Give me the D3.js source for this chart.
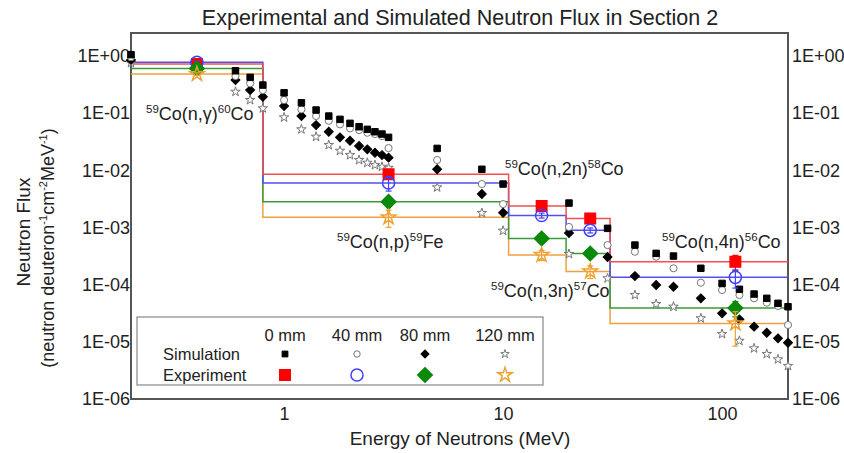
<!DOCTYPE html>
<html><head><meta charset="utf-8">
<script src="https://cdn.jsdelivr.net/npm/d3@7"></script>
<style>body{margin:0;background:#fff}svg{display:block;font-family:"Liberation Sans",Arial,sans-serif}</style>
</head><body><svg id="c" width="844" height="453"></svg>
<script>
// ---- data ----
const seriesNames = ["0 mm","40 mm","80 mm","120 mm"];
const simEnergy = [0.2,0.6,0.7,0.8,1.0,1.2,1.4,1.6,1.8,2.0,2.2,2.4,2.6,2.8,3.0,5,8,10,20,30,40,50,60,80,100,120,140,160,180,200];
const sim0 = [1.05,0.549,0.421,0.309,0.226,0.151,0.113,0.0887,0.0776,0.0661,0.0577,0.0519,0.0471,0.043,0.0376,0.0241,0.0104,0.00574,0.00267,9.64e-4,4.92e-4,3.52e-4,3.16e-4,1.93e-4,1.05e-4,8.28e-5,6.85e-5,5.76e-5,4.71e-5,4.11e-5];
const sim40 = [0.95,0.443,0.331,0.252,0.169,0.116,0.0887,0.0733,0.0634,0.054,0.0504,0.0453,0.043,0.0396,0.0244,0.0151,0.00574,0.00256,0.00102,4.92e-4,3.76e-4,3.08e-4,1.93e-4,1.08e-4,8.05e-5,6.58e-5,5.76e-5,4.83e-5,4.23e-5,1.97e-5];
const sim80 = [0.85,0.377,0.252,0.193,0.133,0.0887,0.0617,0.0471,0.0376,0.0328,0.0265,0.0232,0.0202,0.0184,0.0166,0.0104,0.00384,0.00181,7.98e-4,3.04e-4,1.41e-4,9.84e-5,9.19e-5,5.76e-5,3.15e-5,2.47e-5,1.84e-5,1.44e-5,1.15e-5,9.64e-6];
const sim120 = [0.75,0.236,0.169,0.121,0.084,0.0519,0.0385,0.0276,0.0219,0.0184,0.0151,0.0135,0.0123,0.0115,0.0110,0.00502,0.00179,8.76e-4,3.43e-4,1.29e-4,6.58e-5,4.58e-5,4.11e-5,2.58e-5,1.37e-5,1.04e-5,7.69e-6,6.12e-6,4.94e-6,3.78e-6];

const reactions = ["Co(n,γ)","Co(n,p)","Co(n,2n)","Co(n,3n)","Co(n,4n)"];
const binEdges = [0.2,0.8,10.6,19.4,30.8,200];
const expEnergy = [0.4,3.0,15,25,115];
const exp0 = [0.72,8.5e-3,2.37e-3,1.44e-3,2.5e-4];
const exp40 = [0.77,6.0e-3,1.62e-3,8.9e-4,1.34e-4];
const exp80 = [0.60,2.8e-3,6.4e-4,3.5e-4,3.9e-5];
const exp120 = [0.48,1.5e-3,3.3e-4,1.7e-4,2.1e-5];
const expErr0 = [0.05,0.12,0.1,0.1,0.3];
const expErr40 = [0.05,0.28,0.1,0.1,0.35];
const expErr80 = [0.05,0.15,0.1,0.1,0.3];
const expErr120 = [0.05,0.33,0.2,0.25,0.6];

const yTicks = [1,1e-1,1e-2,1e-3,1e-4,1e-5,1e-6];
const yTickLabels = ["1E+00","1E-01","1E-02","1E-03","1E-04","1E-05","1E-06"];
const xTicks = [1,10,100];
const xTickLabels = ["1","10","100"];

// ---- chart ----
const svg = d3.select("#c");
const L=131,R=788,T=33,B=399;
const x = d3.scaleLog().domain([0.2,200]).range([L,R]);
const y = d3.scaleLog().domain([1e-6,Math.pow(10,0.4)]).range([B,T]);
const textCol="#222";

svg.append("text").attr("x",460).attr("y",25).attr("text-anchor","middle")
  .attr("font-size",21.5).attr("fill",textCol).text("Experimental and Simulated Neutron Flux in Section 2");

// axes
const yl = d3.axisLeft(y).tickValues(yTicks).tickSize(0).tickPadding(1).tickFormat((d,i)=>yTickLabels[i]);
const yr = d3.axisRight(y).tickValues(yTicks).tickSize(0).tickPadding(4).tickFormat((d,i)=>yTickLabels[i]);
const xb = d3.axisBottom(x).tickValues(xTicks).tickSize(0).tickPadding(8).tickFormat((d,i)=>xTickLabels[i]);
function style(g){g.select(".domain").remove();g.selectAll("text").attr("font-size",18).attr("fill",textCol).attr("font-family","Liberation Sans, Arial, sans-serif");}
svg.append("g").attr("transform",`translate(${L},0)`).call(yl).call(style);
svg.append("g").attr("transform",`translate(${R},0)`).call(yr).call(style);
svg.append("g").attr("transform",`translate(0,${B})`).call(xb).call(style);

svg.append("rect").attr("x",L).attr("y",T).attr("width",R-L).attr("height",B-T)
  .attr("fill","none").attr("stroke","#555").attr("stroke-width",2);

svg.append("text").attr("x",460).attr("y",445).attr("text-anchor","middle")
  .attr("font-size",19).attr("fill",textCol).text("Energy of Neutrons (MeV)");

svg.append("text").attr("transform","translate(30,232) rotate(-90)").attr("text-anchor","middle")
  .attr("font-size",19).attr("fill",textCol).text("Neutron Flux");
const yl2 = svg.append("text").attr("transform","translate(54,248) rotate(-90)").attr("text-anchor","middle")
  .attr("font-size",18).attr("fill",textCol);
[["(neutron deuteron",0],["-1",1],["cm",0],["-2",1],["MeV",0],["-1",1],[")",0]].forEach((p,i,arr)=>{
  const prevSup = i>0 && arr[i-1][1];
  const t = yl2.append("tspan").text(p[0]);
  if(p[1]){t.attr("font-size",11).attr("dy",prevSup?0:-7);}
  else if(prevSup){t.attr("dy",7);}
});

// symbol helpers (diamond = square rotated 45°)
const SQ = d3.symbolSquare, CI = d3.symbolCircle, ST = d3.symbolStar;
const DI = "diamond";
function symPath(sym,size){ return d3.symbol(sym===DI?SQ:sym,size)(); }
function symRot(sym){ return sym===DI?" rotate(45)":""; }

// step lines
const expSeries = [
  {v:exp0,e:expErr0,line:"#f05050",col:"#ff0000",sym:SQ,size:110,fill:"#ff0000",stroke:"#ff0000"},
  {v:exp40,e:expErr40,line:"#5050f0",col:"#4040ff",sym:CI,size:115,fill:"none",stroke:"#4040ff"},
  {v:exp80,e:expErr80,line:"#3a9a3a",col:"#008a00",sym:DI,size:105,fill:"#0a8a0a",stroke:"#0a8a0a"},
  {v:exp120,e:expErr120,line:"#f0a040",col:"#f0a030",sym:ST,size:65,fill:"none",stroke:"#f0a030"}
];
const stepLine = d3.line().x(d=>x(d[0])).y(d=>y(d[1])).curve(d3.curveStepAfter);
expSeries.slice().reverse().forEach(s=>{
  const pts = binEdges.map((e,i)=>[e,s.v[Math.min(i,s.v.length-1)]]);
  svg.append("path").attr("d",stepLine(pts)).attr("fill","none").attr("stroke",s.line).attr("stroke-width",1.5);
});

// simulation points
const simSeries = [
  {v:sim120,sym:ST,size:28,fill:"#fff",stroke:"#777"},
  {v:sim80,sym:DI,size:40,fill:"#000",stroke:"#000"},
  {v:sim40,sym:CI,size:40,fill:"#fff",stroke:"#777"},
  {v:sim0,sym:SQ,size:42,fill:"#000",stroke:"#000"}
];
simSeries.forEach(s=>{
  svg.append("g").selectAll("path").data(simEnergy).join("path")
    .attr("transform",(d,i)=>`translate(${x(d)},${y(s.v[i])})${symRot(s.sym)}`)
    .attr("d",symPath(s.sym,s.size)).attr("fill",s.fill).attr("stroke",s.stroke).attr("stroke-width",1);
});

// experimental points with error bars
expSeries.forEach(s=>{
  const g = svg.append("g");
  expEnergy.forEach((e,i)=>{
    const v=s.v[i], er=s.e[i];
    const y1=y(v*(1+er)), y2=y(Math.max(v*(1-er),1e-7));
    g.append("line").attr("x1",x(e)).attr("x2",x(e)).attr("y1",y1).attr("y2",y2).attr("stroke",s.col).attr("stroke-width",1.2);
    [y1,y2].forEach(yy=>g.append("line").attr("x1",x(e)-3).attr("x2",x(e)+3).attr("y1",yy).attr("y2",yy).attr("stroke",s.col).attr("stroke-width",1.2));
  });
  g.selectAll("path").data(expEnergy).join("path")
    .attr("transform",(d,i)=>`translate(${x(d)},${y(s.v[i])})${symRot(s.sym)}`)
    .attr("d",symPath(s.sym,s.size)).attr("fill",s.fill).attr("stroke",s.stroke).attr("stroke-width",1.5);
});

// reaction labels
const rxLabels = [
  {pre:"59",main:reactions[0],post:"60",tail:"Co",x:146,y:120},
  {pre:"59",main:reactions[1],post:"59",tail:"Fe",x:337,y:248},
  {pre:"59",main:reactions[2],post:"58",tail:"Co",x:505,y:175},
  {pre:"59",main:reactions[3],post:"57",tail:"Co",x:491,y:297},
  {pre:"59",main:reactions[4],post:"56",tail:"Co",x:662,y:248}
];
rxLabels.forEach(r=>{
  const t = svg.append("text").attr("x",r.x).attr("y",r.y).attr("font-size",18).attr("fill",textCol);
  t.append("tspan").attr("font-size",11.5).attr("dy",-7).text(r.pre);
  t.append("tspan").attr("dy",7).text(r.main);
  t.append("tspan").attr("font-size",11.5).attr("dy",-7).text(r.post);
  t.append("tspan").attr("dy",7).text(r.tail);
});

// legend
const lg = svg.append("g");
lg.append("rect").attr("x",137).attr("y",317).attr("width",406).attr("height",68)
  .attr("fill","#fff").attr("stroke","#888").attr("stroke-width",1.2);
const colX = [285,357,425,505];
seriesNames.forEach((n,i)=>lg.append("text").attr("x",colX[i]).attr("y",341).attr("text-anchor","middle")
  .attr("font-size",16.5).attr("fill",textCol).text(n));
lg.append("text").attr("x",163).attr("y",360).attr("font-size",16.5).attr("fill",textCol).text("Simulation");
lg.append("text").attr("x",163).attr("y",381).attr("font-size",16.5).attr("fill",textCol).text("Experiment");
const simLeg = simSeries.slice().reverse();
simLeg.forEach((s,i)=>lg.append("path").attr("transform",`translate(${colX[i]},354)${symRot(s.sym)}`)
  .attr("d",symPath(s.sym,s.size*0.8)).attr("fill",s.fill).attr("stroke",s.stroke));
expSeries.forEach((s,i)=>lg.append("path").attr("transform",`translate(${colX[i]},375)${symRot(s.sym)}`)
  .attr("d",symPath(s.sym,s.size)).attr("fill",s.fill).attr("stroke",s.stroke).attr("stroke-width",1.5));
</script></body></html>
